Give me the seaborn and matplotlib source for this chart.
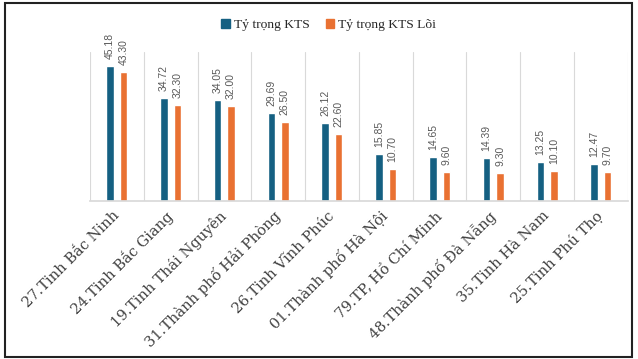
import numpy as np
import pandas as pd
import matplotlib
matplotlib.use("Agg")
import matplotlib.pyplot as plt
from matplotlib.patches import Rectangle
import seaborn as sns

provinces = [
    "27.Tinh Bắc Ninh",
    "24.Tinh Bắc Giang",
    "19.Tinh Thái Nguyên",
    "31.Thành phố Hải Phòng",
    "26.Tinh Vĩnh Phúc",
    "01.Thành phố Hà Nội",
    "79.TP, Hồ Chí Minh",
    "48.Thành phố Đà Nẵng",
    "35.Tinh Hà Nam",
    "25.Tinh Phú Thọ",
]
kts_share = [45.18, 34.72, 34.05, 29.69, 26.12, 15.85, 14.65, 14.39, 13.25, 12.47]
core_kts_share = [43.30, 32.30, 32.00, 26.50, 22.60, 10.70, 9.60, 9.30, 10.10, 9.70]
series_names = ["Tỷ trọng KTS", "Tỷ trọng KTS Lõi"]

df = pd.DataFrame({
    "province": provinces * 2,
    "value": kts_share + core_kts_share,
    "series": [series_names[0]] * len(provinces) + [series_names[1]] * len(provinces),
})

sns.set_theme(style="white")
plt.rcParams["font.family"] = ["DejaVu Sans"]

palette = {series_names[0]: "#156082", series_names[1]: "#E97132"}

fig = plt.figure(figsize=(6.38, 3.59), dpi=100)
ax = fig.add_axes([0.141, 0.440, 0.843, 0.415])

sns.barplot(data=df, x="province", y="value", hue="series", order=provinces,
            hue_order=series_names, palette=palette, width=0.5, gap=0.44,
            saturation=1, ax=ax, legend=False)

for cont in ax.containers:
    ax.bar_label(cont, fmt="%.2f", rotation=90, padding=5, fontsize=7.5,
                 color="#595959", family="Liberation Sans")

n = len(provinces)
ax.set_xlim(-0.5, n - 0.5)
ax.set_ylim(0, 50)
ax.set_yticks([])
ax.set_xlabel("")
ax.set_ylabel("")

# vertical separators between categories
ax.set_xticks(np.arange(-0.5, n, 1.0), minor=True)
ax.grid(True, which="minor", axis="x", color="#d9d9d9", linewidth=0.8)
ax.grid(False, which="major")
ax.tick_params(axis="x", which="both", length=0, pad=9)
ax.set_xticks(range(n))
ax.set_xticklabels(provinces, rotation=45, ha="right", va="center",
                   rotation_mode="anchor", family="DejaVu Serif",
                   fontsize=10.5, color="#404040")
for s in ["top", "right", "left"]:
    ax.spines[s].set_visible(False)
ax.spines["bottom"].set_color("#d9d9d9")

handles = [Rectangle((0, 0), 1, 1, color=palette[s]) for s in series_names]
fig.legend(handles, series_names, loc="center", bbox_to_anchor=(0.515, 0.93),
           ncol=2, frameon=False, handlelength=0.6, handleheight=0.6,
           handletextpad=0.3, columnspacing=1.2,
           prop={"family": "Liberation Serif", "size": 9.7})

# outer frame around the figure
fig.patches.append(Rectangle((0.008, 0.006), 0.982, 0.986, transform=fig.transFigure,
                             fill=False, edgecolor="#222222", linewidth=1.5))

fig.savefig("out.png", dpi=100)
